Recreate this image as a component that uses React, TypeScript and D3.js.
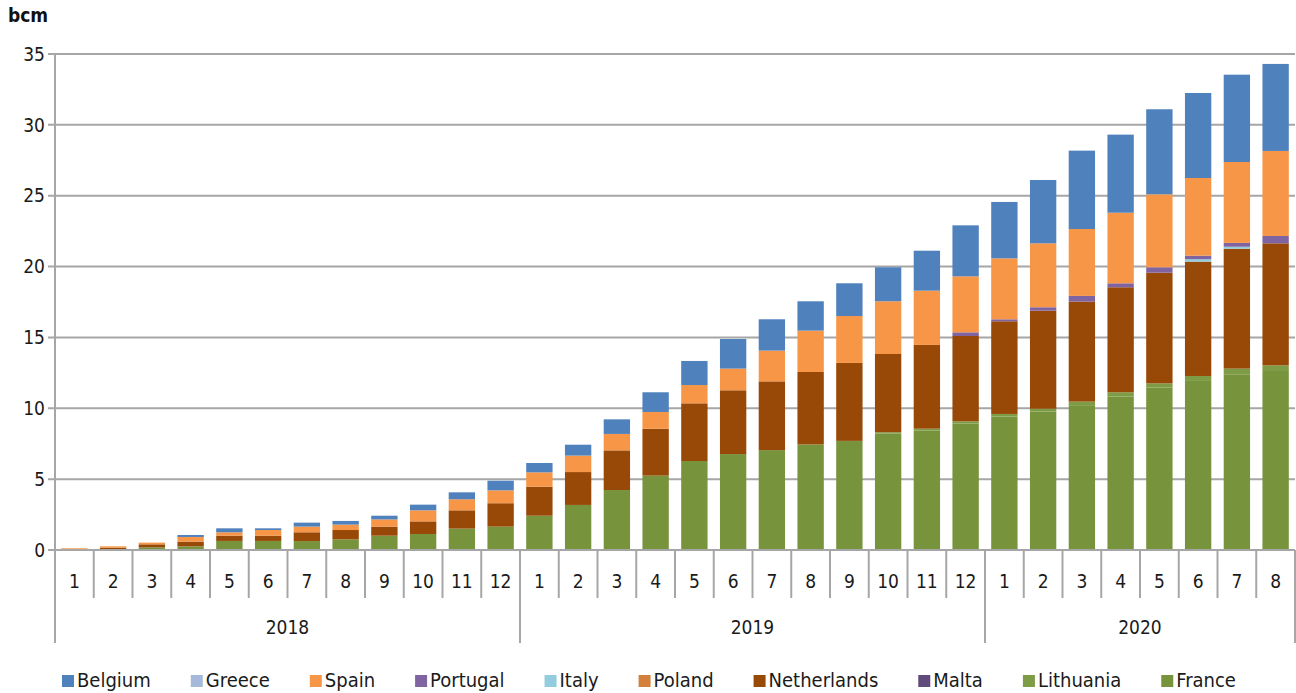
import React, { useEffect, useRef } from "react";
import * as d3 from "d3";

// month/year categories
const years = ["2018", "2019", "2020"];
const monthsPerYear = [12, 12, 8];
const yTicks = [0, 5, 10, 15, 20, 25, 30, 35];

// series, bottom of the stack first (bcm, cumulative)
const france = [
  0, 0.03, 0.19, 0.26, 0.64, 0.64, 0.63, 0.75, 1.01, 1.13, 1.51, 1.65,
  2.42, 3.18, 4.23, 5.25, 6.28, 6.77, 7.05, 7.45, 7.7, 8.21, 8.44, 8.93,
  9.42, 9.77, 10.22, 10.83, 11.46, 11.93, 12.4, 12.63,
];
const lithuania = [
  0, 0, 0, 0, 0, 0, 0, 0, 0, 0, 0, 0,
  0, 0, 0, 0, 0, 0, 0, 0, 0, 0.1, 0.12, 0.15,
  0.18, 0.2, 0.25, 0.3, 0.3, 0.35, 0.4, 0.4,
];
const malta = [
  0, 0, 0, 0, 0, 0, 0, 0, 0, 0, 0, 0,
  0, 0, 0, 0, 0, 0, 0, 0, 0, 0, 0, 0,
  0, 0, 0, 0, 0, 0, 0, 0,
];
const netherlands = [
  0, 0.13, 0.21, 0.33, 0.37, 0.37, 0.62, 0.66, 0.64, 0.89, 1.29, 1.65,
  2.05, 2.32, 2.8, 3.31, 4.07, 4.5, 4.85, 5.11, 5.5, 5.52, 5.91, 6.02,
  6.54, 6.92, 7.06, 7.41, 7.81, 8.07, 8.46, 8.61,
];
const poland = [
  0, 0, 0, 0, 0, 0, 0, 0, 0, 0, 0, 0,
  0, 0, 0, 0, 0, 0, 0, 0, 0, 0, 0, 0,
  0, 0, 0, 0, 0, 0, 0, 0,
];
const italy = [
  0, 0, 0, 0, 0, 0, 0, 0, 0, 0, 0, 0,
  0, 0, 0, 0, 0, 0, 0, 0, 0, 0, 0, 0,
  0, 0, 0, 0, 0, 0.17, 0.14, 0,
];
const portugal = [
  0, 0, 0, 0, 0, 0, 0, 0, 0, 0, 0, 0,
  0, 0, 0, 0, 0, 0, 0, 0, 0, 0, 0, 0.26,
  0.14, 0.24, 0.4, 0.28, 0.38, 0.25, 0.27, 0.52,
];
const spain = [
  0.12, 0.1, 0.12, 0.33, 0.24, 0.4, 0.4, 0.38, 0.51, 0.78, 0.78, 0.91,
  1.01, 1.16, 1.16, 1.18, 1.29, 1.53, 2.17, 2.92, 3.31, 3.72, 3.83, 3.95,
  4.3, 4.51, 4.72, 4.98, 5.15, 5.48, 5.71, 6.0,
];
const greece = [
  0, 0, 0, 0, 0, 0, 0, 0, 0, 0, 0, 0,
  0, 0, 0, 0, 0, 0, 0, 0, 0, 0, 0, 0,
  0, 0, 0, 0, 0, 0, 0, 0,
];
const belgium = [
  0, 0, 0, 0.14, 0.28, 0.12, 0.28, 0.26, 0.26, 0.4, 0.49, 0.68,
  0.66, 0.77, 1.03, 1.39, 1.7, 2.09, 2.21, 2.07, 2.31, 2.4, 2.82, 3.6,
  3.98, 4.47, 5.53, 5.51, 6.0, 6.0, 6.16, 6.14,
];

const series = [
  { name: "France", values: france, color: "#77933C" },
  { name: "Lithuania", values: lithuania, color: "#7E9C45" },
  { name: "Malta", values: malta, color: "#604A7B" },
  { name: "Netherlands", values: netherlands, color: "#984807" },
  { name: "Poland", values: poland, color: "#D2803C" },
  { name: "Italy", values: italy, color: "#93CDDD" },
  { name: "Portugal", values: portugal, color: "#8064A2" },
  { name: "Spain", values: spain, color: "#F79646" },
  { name: "Greece", values: greece, color: "#A6B9DA" },
  { name: "Belgium", values: belgium, color: "#4F81BD" },
];

const legendOrder = [
  "Belgium", "Greece", "Spain", "Portugal", "Italy",
  "Poland", "Netherlands", "Malta", "Lithuania", "France",
];

const FONT = "'DejaVu Sans Condensed', 'Liberation Sans Narrow', 'Liberation Sans', sans-serif";

export default function App() {
  const ref = useRef<SVGSVGElement>(null);

  useEffect(() => {
    const svg = d3.select(ref.current);
    svg.selectAll("*").remove();

    const left = 55, right = 1295, top = 54, bottom = 550;

    const cats: { key: string; month: number; year: string }[] = [];
    years.forEach((y, i) => {
      for (let m = 1; m <= monthsPerYear[i]; m++) cats.push({ key: `${y}-${m}`, month: m, year: y });
    });

    const rows = cats.map((c, i) => {
      const r: any = { key: c.key };
      series.forEach(s => (r[s.name] = s.values[i]));
      return r;
    });

    const x = d3.scaleBand().domain(cats.map(c => c.key)).range([left, right]).paddingInner(0.32).paddingOuter(0.16);
    const y = d3.scaleLinear().domain([0, 35]).range([bottom, top]);
    const boundary = (i: number) => left + (i * (right - left)) / cats.length;

    // gridlines
    svg.append("g")
      .selectAll("line")
      .data(yTicks)
      .join("line")
      .attr("x1", 48)
      .attr("x2", right)
      .attr("y1", d => y(d))
      .attr("y2", d => y(d))
      .attr("stroke", "#A6A6A6")
      .attr("stroke-width", 2);

    svg.append("g")
      .selectAll("text")
      .data(yTicks)
      .join("text")
      .attr("x", 45)
      .attr("y", d => y(d))
      .attr("dy", "0.35em")
      .attr("text-anchor", "end")
      .attr("font-size", 19)
      .attr("fill", "#1a1a1a")
      .text(d => d);

    // stacked bars
    const stack = d3.stack<any>().keys(series.map(s => s.name));
    const layers = stack(rows);
    svg.append("g")
      .selectAll("g")
      .data(layers)
      .join("g")
      .attr("fill", (d, i) => series[i].color)
      .selectAll("rect")
      .data(d => d)
      .join("rect")
      .attr("x", d => x(d.data.key)!)
      .attr("width", x.bandwidth())
      .attr("y", d => y(d[1]))
      .attr("height", d => Math.max(0, y(d[0]) - y(d[1])));

    // x axis
    const ax = svg.append("g").attr("stroke", "#A6A6A6").attr("stroke-width", 2);
    ax.append("line").attr("x1", left).attr("x2", right).attr("y1", bottom).attr("y2", bottom);
    ax.append("line").attr("x1", left).attr("x2", left).attr("y1", top).attr("y2", 643);
    d3.range(1, cats.length + 1).forEach(i => {
      ax.append("line")
        .attr("x1", boundary(i)).attr("x2", boundary(i))
        .attr("y1", bottom).attr("y2", 598);
    });
    let acc = 0;
    monthsPerYear.forEach(n => {
      acc += n;
      ax.append("line")
        .attr("x1", boundary(acc)).attr("x2", boundary(acc))
        .attr("y1", bottom).attr("y2", 643);
    });

    svg.append("g")
      .selectAll("text")
      .data(cats)
      .join("text")
      .attr("x", d => x(d.key)! + x.bandwidth() / 2)
      .attr("y", 581)
      .attr("dy", "0.35em")
      .attr("text-anchor", "middle")
      .attr("font-size", 19)
      .attr("fill", "#1a1a1a")
      .text(d => d.month);

    let start = 0;
    years.forEach((yr, i) => {
      const a = boundary(start), b = boundary(start + monthsPerYear[i]);
      svg.append("text")
        .attr("x", (a + b) / 2)
        .attr("y", 627)
        .attr("dy", "0.35em")
        .attr("text-anchor", "middle")
        .attr("font-size", 19)
        .attr("fill", "#1a1a1a")
        .text(yr);
      start += monthsPerYear[i];
    });

    // unit label
    svg.append("text")
      .attr("x", 8)
      .attr("y", 22)
      .attr("font-size", 19)
      .attr("font-weight", "bold")
      .attr("fill", "#111")
      .text("bcm");

    // legend
    const legend = svg.append("g");
    let lx = 62;
    legendOrder.forEach(name => {
      const s = series.find(d => d.name === name)!;
      legend.append("rect")
        .attr("x", lx).attr("y", 675).attr("width", 12).attr("height", 12)
        .attr("fill", s.color);
      const t = legend.append("text")
        .attr("x", lx + 15)
        .attr("y", 687)
        .attr("font-size", 20)
        .attr("fill", "#1a1a1a")
        .text(name);
      const w = (t.node() as SVGTextElement).getComputedTextLength();
      lx += 15 + w + 40;
    });
  }, []);

  return (
    <svg
      ref={ref}
      width={1296}
      height={693}
      style={{ position: "absolute", left: 0, top: 0, fontFamily: FONT, background: "#fff" }}
    />
  );
}
